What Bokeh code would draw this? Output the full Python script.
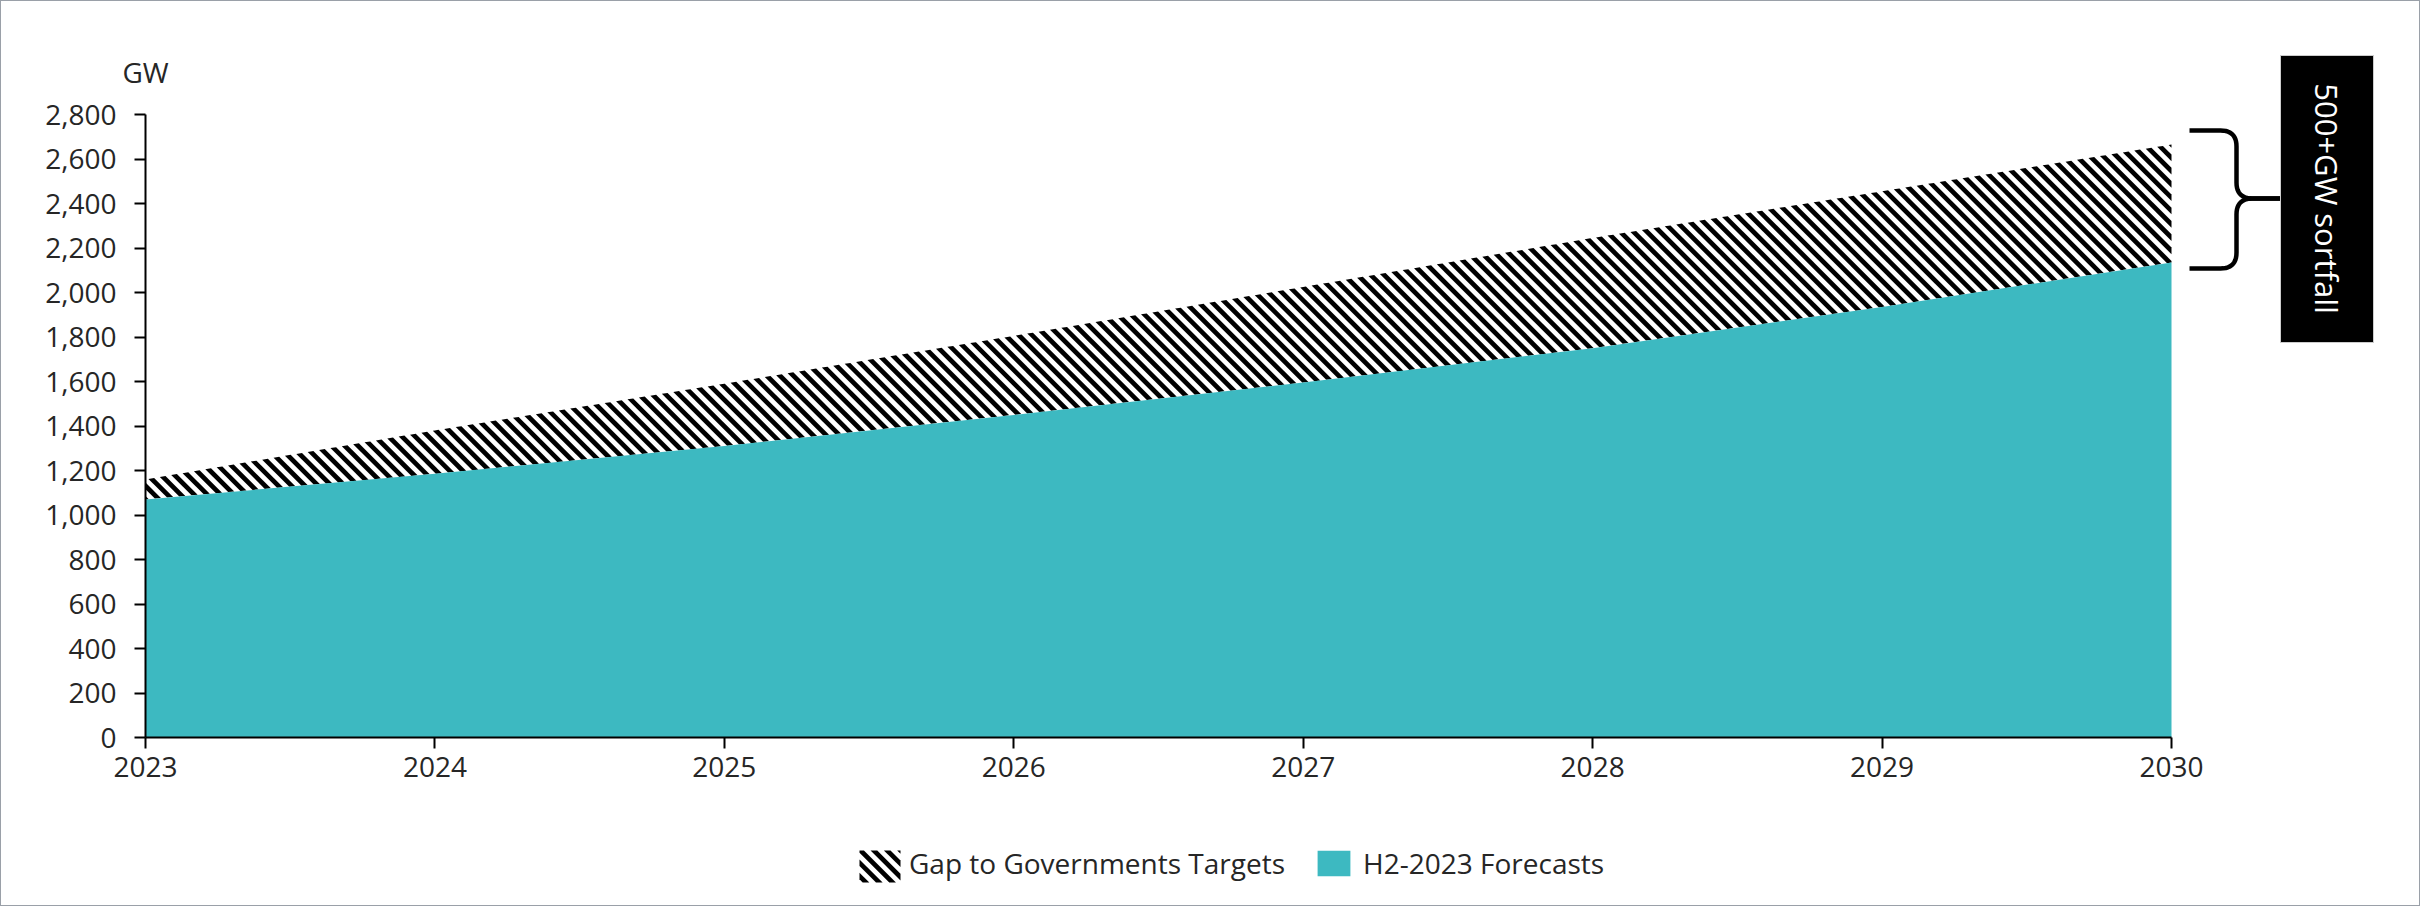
import math
import numpy as np
from bokeh.plotting import figure
from bokeh.models import (Range1d, FixedTicker, NumeralTickFormatter, Legend,
                          LegendItem, Label)
from bokeh.embed import file_html
from bokeh.resources import INLINE

# ---------------- data ----------------
years = [2023, 2024, 2025, 2026, 2027, 2028, 2029, 2030]
forecast_gw = [1070, 1185, 1310, 1450, 1595, 1750, 1935, 2135]      # H2-2023 Forecasts
targets_gw = [1160, 1380, 1590, 1805, 2025, 2245, 2455, 2665]       # Governments targets (top of gap)
y_ticks = [0, 200, 400, 600, 800, 1000, 1200, 1400, 1600, 1800, 2000, 2200, 2400, 2600, 2800]
x_ticks = years
series_names = ["Gap to Governments Targets", "H2-2023 Forecasts"]
unit_label = "GW"
callout_text = "500+GW sortfall"

# ---------------- layout (pixel geometry of the page) ----------------
W, H = 2420, 906
AX_X, AX_Y = 144, 736             # pixel position of the axes origin
PX_PER_YEAR = (2170 - 144) / 7.0
PX_PER_GW = (736 - 113) / 2800.0


def fx(px):
    return years[0] + (px - AX_X) / PX_PER_YEAR


def fy(py):
    return (AX_Y - py) / PX_PER_GW


def to_px_x(x):
    return AX_X + (float(x) - years[0]) * PX_PER_YEAR


def to_px_y(y):
    return AX_Y - float(y) * PX_PER_GW


FONT = "Open Sans"
TXT = "#262626"
TEAL = "#3DB9C1"
PERIOD = 13.3          # stripe repeat (px, measured along x)
STRIPE_W = 4.7         # stripe thickness (px)
HALF = STRIPE_W * math.sqrt(2) / 2

p = figure(width=W, height=H, x_range=Range1d(fx(0), fx(W)), y_range=Range1d(fy(H), fy(0)),
           output_backend="svg", toolbar_location=None,
           min_border_left=0, min_border_right=0, min_border_top=0, min_border_bottom=0)
p.outline_line_color = None
p.xgrid.visible = False
p.ygrid.visible = False
p.background_fill_color = "white"
p.border_fill_color = "white"
p.styles = {"border": "1px solid #9aa0a8", "box-sizing": "border-box"}


def clip_halfplane(poly, f):
    out = []
    n = len(poly)
    for i in range(n):
        a, b = poly[i], poly[(i + 1) % n]
        fa, fb = f(a), f(b)
        if fa >= 0:
            out.append(a)
        if (fa >= 0) != (fb >= 0):
            t = fa / (fa - fb)
            out.append((a[0] + t * (b[0] - a[0]), a[1] + t * (b[1] - a[1])))
    return out


def hatch_polys(region):
    """45-degree stripes (screen '\\' direction) clipped exactly to a pixel polygon."""
    d = [q[1] - q[0] for q in region]
    xs, ys = [], []
    for c in np.arange(min(d) - PERIOD, max(d) + PERIOD, PERIOD):
        poly = clip_halfplane(region, lambda q, c=c: (q[1] - q[0]) - (c - HALF))
        poly = clip_halfplane(poly, lambda q, c=c: (c + HALF) - (q[1] - q[0]))
        if len(poly) >= 3:
            xs.append([fx(q[0]) for q in poly])
            ys.append([fy(q[1]) for q in poly])
    return xs, ys


# ---- hatched gap between forecast and targets ----
gap_region = ([(to_px_x(x), to_px_y(v)) for x, v in zip(years, targets_gw)] +
              [(to_px_x(x), to_px_y(v)) for x, v in zip(years[::-1], forecast_gw[::-1])])
gx, gy = hatch_polys(gap_region)
p.patches(xs=gx, ys=gy, fill_color="black", line_color=None)

# forecast area
r_fc = p.varea(x=years, y1=[0] * len(years), y2=forecast_gw, fill_color=TEAL)
# zero-height renderer standing for the gap in the legend
r_gap = p.varea(x=years, y1=forecast_gw, y2=forecast_gw, fill_alpha=0)

# axes
for ax in (p.xaxis[0], p.yaxis[0]):
    ax.axis_line_color = "black"
    ax.axis_line_width = 2
    ax.major_tick_line_color = "black"
    ax.major_tick_line_width = 2
    ax.major_tick_out = 11
    ax.major_tick_in = 0
    ax.minor_tick_line_color = None
    ax.major_label_text_font = FONT
    ax.major_label_text_font_size = "28px"
    ax.major_label_text_color = TXT

p.xaxis.ticker = FixedTicker(ticks=x_ticks)
p.xaxis.formatter = NumeralTickFormatter(format="0")
p.xaxis.bounds = (years[0], years[-1])
p.xaxis.major_label_standoff = 8
p.xaxis.fixed_location = 0

p.yaxis.ticker = FixedTicker(ticks=y_ticks)
p.yaxis.formatter = NumeralTickFormatter(format="0,0")
p.yaxis.bounds = (y_ticks[0], y_ticks[-1])
p.yaxis.major_label_standoff = 18
p.yaxis.fixed_location = years[0]

# unit label
p.add_layout(Label(x=years[0], y=y_ticks[-1], x_offset=-23, y_offset=43, text=unit_label,
                   text_font=FONT, text_font_size="28px", text_color=TXT,
                   text_align="left", text_baseline="alphabetic"))

# legend
LEG_X, LEG_BOTTOM = 858, 881
legend = Legend(items=[LegendItem(label=series_names[0], renderers=[r_gap]),
                       LegendItem(label=series_names[1], renderers=[r_fc])],
                location=(LEG_X, H - LEG_BOTTOM), orientation="horizontal",
                border_line_color=None, background_fill_alpha=0,
                padding=0, margin=0, glyph_width=41, glyph_height=32,
                label_height=32, label_standoff=9, spacing=28,
                label_text_font=FONT, label_text_font_size="28px",
                label_text_color=TXT)
p.add_layout(legend)

# hatched swatch for the gap legend entry
sw_l, sw_r, sw_t, sw_b = 858, 899, 849, 881
sx_, sy_ = hatch_polys([(sw_l, sw_t), (sw_r, sw_t), (sw_r, sw_b), (sw_l, sw_b)])
p.patches(xs=sx_, ys=sy_, fill_color="black", line_color=None)


# brace
def qcurve(p0, c, p1, n=12):
    t = np.linspace(0, 1, n)
    xs = (1 - t) ** 2 * p0[0] + 2 * (1 - t) * t * c[0] + t ** 2 * p1[0]
    ys = (1 - t) ** 2 * p0[1] + 2 * (1 - t) * t * c[1] + t ** 2 * p1[1]
    return list(xs), list(ys)


xl, xm, xt = 2188, 2235, 2279
yt, ym, yb = 129, 197, 267
r = 16
bx, by = [xl], [yt]
for seg in [qcurve((xm - r, yt), (xm, yt), (xm, yt + r)),
            qcurve((xm, ym - r), (xm, ym), (xm + r, ym))]:
    bx += seg[0]; by += seg[1]
bx.append(xt); by.append(ym)
bx2, by2 = [xt], [ym]
for seg in [qcurve((xm + r, ym), (xm, ym), (xm, ym + r)),
            qcurve((xm, yb - r), (xm, yb), (xm - r, yb))]:
    bx2 += seg[0]; by2 += seg[1]
bx2.append(xl); by2.append(yb)
p.multi_line(xs=[[fx(v) for v in bx], [fx(v) for v in bx2]],
             ys=[[fy(v) for v in by], [fy(v) for v in by2]],
             line_color="black", line_width=4.5, line_join="round")

# callout box
p.quad(left=[fx(2279)], right=[fx(2372)], top=[fy(54)], bottom=[fy(341)],
       fill_color="black", line_color="#cccccc", line_width=1)
p.add_layout(Label(x=fx(2325.5), y=fy(197), text=callout_text, angle=-math.pi / 2,
                   text_font=FONT, text_font_size="31px", text_color="white",
                   text_align="center", text_baseline="middle"))

open("out.html", "w").write(file_html(p, INLINE))
